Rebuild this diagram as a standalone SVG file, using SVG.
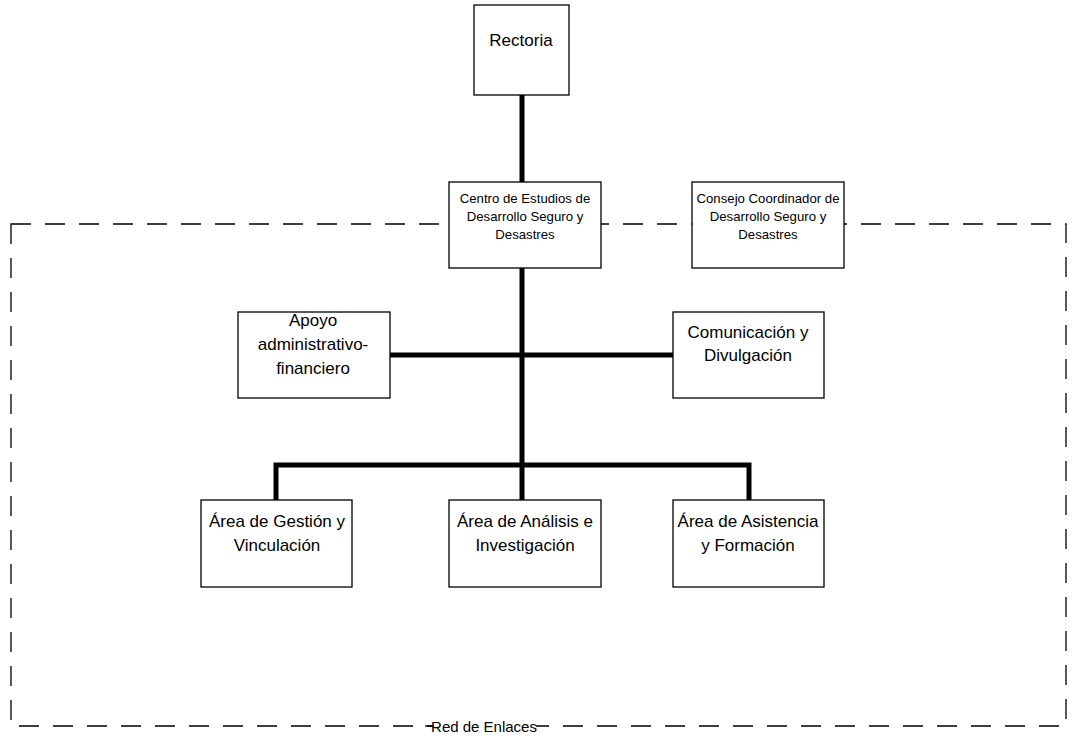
<svg xmlns="http://www.w3.org/2000/svg" width="1072" height="736" viewBox="0 0 1072 736">
<style>
.box{fill:#fff;stroke:#000;stroke-width:1.3}
.t{font-family:"Liberation Sans",Arial,sans-serif;fill:#000;text-anchor:middle}
.big{font-size:17px}
.sm{font-size:13.2px}
.thick{stroke:#000;stroke-width:5;fill:none}
.dash{stroke:#000;stroke-width:1.3;fill:none;stroke-dasharray:20 14}
</style>
<rect width="1072" height="736" fill="#fff"/>
<g id="group-frame">
<rect class="dash" x="11" y="224" width="1055" height="502"/>
<rect x="433" y="716" width="103" height="18" fill="#fff"/>
<line x1="425" y1="726" x2="434" y2="726" stroke="#000" stroke-width="1.3"/>
<text class="t" x="484" y="732" font-size="15px">Red de Enlaces</text>
</g>
<g id="connectors">
<line class="thick" x1="522" y1="95" x2="522" y2="182"/>
<line class="thick" x1="522" y1="268" x2="522" y2="465"/>
<line class="thick" x1="390" y1="355" x2="673" y2="355"/>
<polyline class="thick" points="276,500 276,465 749,465 749,500"/>
<line class="thick" x1="522" y1="465" x2="522" y2="500"/>
</g>
<g id="rectoria"><rect class="box" x="474" y="5" width="95" height="90"/><text class="t big" x="521" y="46">Rectoria</text></g>
<g id="centro"><rect class="box" x="449" y="182" width="152" height="86"/>
<text class="t sm" x="525" y="203">Centro de Estudios de</text>
<text class="t sm" x="525" y="221">Desarrollo Seguro y</text>
<text class="t sm" x="525" y="239">Desastres</text></g>
<g id="consejo"><rect class="box" x="692" y="182" width="152" height="86"/>
<text class="t sm" x="768" y="203">Consejo Coordinador de</text>
<text class="t sm" x="768" y="221">Desarrollo Seguro y</text>
<text class="t sm" x="768" y="239">Desastres</text></g>
<g id="apoyo"><rect class="box" x="238" y="312" width="152" height="86"/>
<text class="t big" x="313" y="326">Apoyo</text>
<text class="t big" x="313" y="350">administrativo-</text>
<text class="t big" x="313" y="374">financiero</text></g>
<g id="comunicacion"><rect class="box" x="673" y="312" width="151" height="86"/>
<text class="t big" x="748" y="338">Comunicación y</text>
<text class="t big" x="748" y="361">Divulgación</text></g>
<g id="gestion"><rect class="box" x="201" y="500" width="151" height="87"/>
<text class="t big" x="277" y="527">Área de Gestión y</text>
<text class="t big" x="277" y="551">Vinculación</text></g>
<g id="analisis"><rect class="box" x="449" y="500" width="152" height="87"/>
<text class="t big" x="525" y="527">Área de Análisis e</text>
<text class="t big" x="525" y="551">Investigación</text></g>
<g id="asistencia"><rect class="box" x="673" y="500" width="151" height="87"/>
<text class="t big" x="748" y="527">Área de Asistencia</text>
<text class="t big" x="748" y="551">y Formación</text></g>
</svg>
